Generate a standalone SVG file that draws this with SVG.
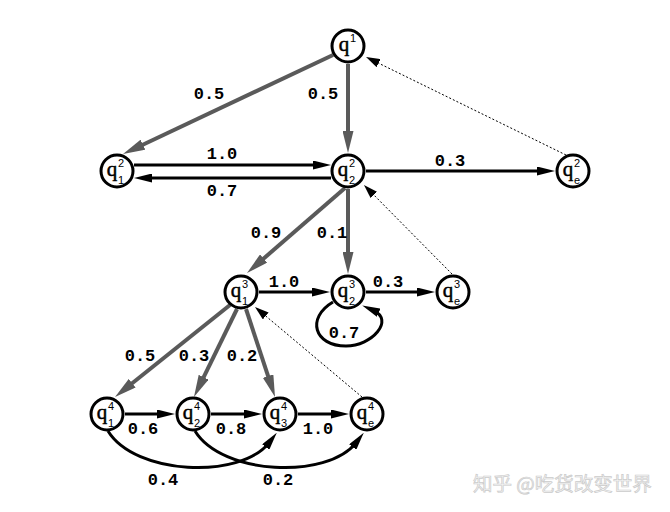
<svg xmlns="http://www.w3.org/2000/svg" width="670" height="512" viewBox="0 0 670 512">
<style>
.node circle{fill:#fff;stroke:#000;stroke-width:3}
.q{font-family:"Liberation Serif",serif;font-size:21px;text-anchor:middle;fill:#000;stroke:#000;stroke-width:0.5}
.s{font-family:"Liberation Sans",sans-serif;font-size:11px;text-anchor:middle;fill:#000}
.lbl{font-family:"Liberation Mono",monospace;font-weight:bold;font-size:17px;text-anchor:middle;fill:#000}
.b{stroke:#000;stroke-width:3;fill:none;marker-end:url(#ab)}
.g{stroke:#5a5a5a;stroke-width:4;fill:none;marker-end:url(#ag)}
.d{stroke:#000;stroke-width:1;stroke-dasharray:2,2;fill:none;marker-end:url(#ad)}
.wm{font-family:"Noto Sans CJK SC","Noto Sans",sans-serif;font-size:19.5px;fill:#f4f4f4;stroke:#cbcbcb;stroke-width:0.7}
</style>
<defs>
<marker id="ab" markerUnits="userSpaceOnUse" markerWidth="18" markerHeight="9" refX="6" refY="4.5" orient="auto"><path d="M0,0 L18,4.5 L0,9 z" fill="#000"/></marker>
<marker id="ag" markerUnits="userSpaceOnUse" markerWidth="22" markerHeight="11" refX="6" refY="5.5" orient="auto"><path d="M0,0 L22,5.5 L0,11 z" fill="#5a5a5a"/></marker>
<marker id="ad" markerUnits="userSpaceOnUse" markerWidth="14" markerHeight="9" refX="2" refY="4.5" orient="auto"><path d="M0,0 L14,4.5 L0,9 z" fill="#000"/></marker>
</defs>
<rect width="670" height="512" fill="#fff"/>
<g id="connectors">
<line class="g" x1="333" y1="55" x2="137.5" y2="147.2"/>
<line class="g" x1="348" y1="64" x2="348" y2="137"/>
<line class="b" x1="134" y1="165" x2="319" y2="165"/>
<line class="b" x1="331" y1="178" x2="146" y2="178"/>
<line class="b" x1="366" y1="171" x2="543" y2="171"/>
<line class="d" x1="566" y1="155" x2="376.8" y2="62.3"/>
<line class="g" x1="345" y1="188" x2="259.1" y2="262.5"/>
<line class="g" x1="348" y1="189" x2="348" y2="258"/>
<line class="d" x1="452" y1="274" x2="372.4" y2="193.5"/>
<line class="b" x1="259" y1="292" x2="318" y2="292"/>
<line class="b" x1="366" y1="292" x2="423" y2="292"/>
<path class="b" d="M333,302 C306,318 314,346 346,346 C372,346 395,320 373.2,310.3"/>
<line class="d" x1="362" y1="397" x2="264.2" y2="314.7"/>
<line class="g" x1="230" y1="305" x2="127.5" y2="387"/>
<line class="g" x1="237" y1="309" x2="201" y2="382.6"/>
<line class="g" x1="246" y1="309" x2="270" y2="381.8"/>
<line class="b" x1="125" y1="414" x2="163" y2="414"/>
<line class="b" x1="211" y1="414" x2="250" y2="414"/>
<line class="b" x1="298" y1="414" x2="337" y2="414"/>
<path class="b" d="M108,431 C135,475 240,480 269.4,442.3"/>
<path class="b" d="M195,431 C222,475 327,480 356.4,442.3"/>
</g>
<g id="labels">
<text class="lbl" x="209" y="99">0.5</text>
<text class="lbl" x="323" y="99">0.5</text>
<text class="lbl" x="222" y="159">1.0</text>
<text class="lbl" x="222" y="196">0.7</text>
<text class="lbl" x="450" y="166">0.3</text>
<text class="lbl" x="266" y="238">0.9</text>
<text class="lbl" x="332" y="238">0.1</text>
<text class="lbl" x="284" y="287">1.0</text>
<text class="lbl" x="388" y="287">0.3</text>
<text class="lbl" x="344" y="338">0.7</text>
<text class="lbl" x="140" y="361">0.5</text>
<text class="lbl" x="194" y="361">0.3</text>
<text class="lbl" x="242" y="361">0.2</text>
<text class="lbl" x="143" y="434">0.6</text>
<text class="lbl" x="231" y="434">0.8</text>
<text class="lbl" x="318" y="434">1.0</text>
<text class="lbl" x="163" y="485">0.4</text>
<text class="lbl" x="278" y="485">0.2</text>
</g>
<g id="q1" class="node"><circle cx="348" cy="46" r="16"/><text class="q" x="344" y="51">q</text><text class="s" x="353" y="42">1</text></g>
<g id="q2_1" class="node"><circle cx="117" cy="171" r="16"/><text class="q" x="112" y="176">q</text><text class="s" x="121" y="167">2</text><text class="s" x="121" y="184">1</text></g>
<g id="q2_2" class="node"><circle cx="348" cy="171" r="16"/><text class="q" x="343" y="176">q</text><text class="s" x="352" y="167">2</text><text class="s" x="352" y="184">2</text></g>
<g id="q2_e" class="node"><circle cx="573" cy="171" r="16"/><text class="q" x="568" y="176">q</text><text class="s" x="577" y="167">2</text><text class="s" x="577" y="184">e</text></g>
<g id="q3_1" class="node"><circle cx="241" cy="292" r="16"/><text class="q" x="236" y="297">q</text><text class="s" x="245" y="288">3</text><text class="s" x="245" y="305">1</text></g>
<g id="q3_2" class="node"><circle cx="348" cy="292" r="16"/><text class="q" x="343" y="297">q</text><text class="s" x="352" y="288">3</text><text class="s" x="352" y="305">2</text></g>
<g id="q3_e" class="node"><circle cx="453" cy="292" r="16"/><text class="q" x="448" y="297">q</text><text class="s" x="457" y="288">3</text><text class="s" x="457" y="305">e</text></g>
<g id="q4_1" class="node"><circle cx="107" cy="414" r="16"/><text class="q" x="102" y="419">q</text><text class="s" x="111" y="410">4</text><text class="s" x="111" y="427">1</text></g>
<g id="q4_2" class="node"><circle cx="193" cy="414" r="16"/><text class="q" x="188" y="419">q</text><text class="s" x="197" y="410">4</text><text class="s" x="197" y="427">2</text></g>
<g id="q4_3" class="node"><circle cx="280" cy="414" r="16"/><text class="q" x="275" y="419">q</text><text class="s" x="284" y="410">4</text><text class="s" x="284" y="427">3</text></g>
<g id="q4_e" class="node"><circle cx="367" cy="414" r="16"/><text class="q" x="362" y="419">q</text><text class="s" x="371" y="410">4</text><text class="s" x="371" y="427">e</text></g>
<text class="wm" x="473" y="491">知乎 @吃货改变世界</text>
</svg>
